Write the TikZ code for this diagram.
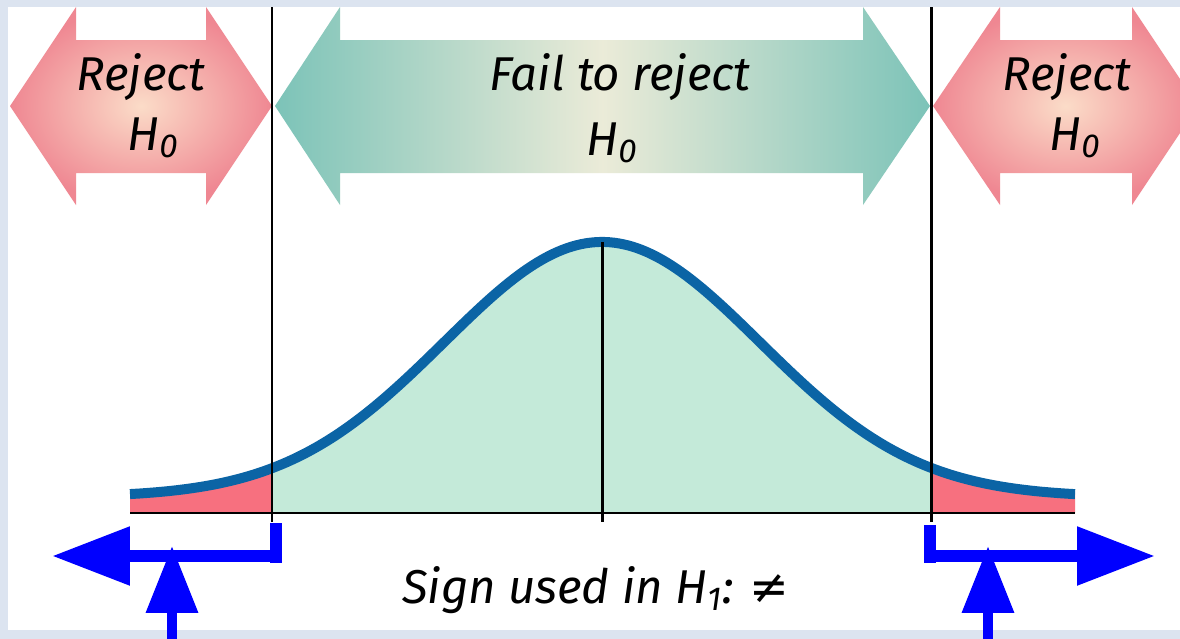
\documentclass[tikz,border=0pt]{standalone}
\usepackage{fontspec}
\setmainfont{Fira Sans}
\newfontfamily\symfont{DejaVu Sans}
\usetikzlibrary{arrows.meta,positioning,shadings}
\definecolor{frame}{HTML}{DCE4F0}
\definecolor{rejedge}{HTML}{EF8792}
\definecolor{rejmid}{HTML}{FBDCC8}
\definecolor{failedge}{HTML}{7CC3B8}
\definecolor{failmid}{HTML}{EBEBD8}
\definecolor{tailpink}{HTML}{F7707F}
\definecolor{bodygreen}{HTML}{C4EAD9}
\definecolor{curveblue}{HTML}{0B64A5}
\definecolor{ptrblue}{HTML}{0000FF}

\begin{document}
\begin{tikzpicture}[x=0.02cm, y=-0.02cm,
      lbl/.style={font=\fontsize{27}{32}\selectfont\itshape, anchor=base, inner sep=0pt},
      rej/.style={inner color=rejmid, outer color=rejedge},
      fail/.style={left color=failedge, right color=failedge, middle color=failmid},
      rule/.style={black, line width=1.7pt},
      barr/.style={ptrblue, line width=0.24cm, -{Triangle[length=1.56cm, width=1.12cm]}},
      uarr/.style={ptrblue, line width=0.2cm, -{Triangle[length=1.34cm, width=1cm]}},
      tickbar/.style={ptrblue, line width=0.24cm}
    ]
      \useasboundingbox (0,0) rectangle (1180,639);
      \fill[frame] (0,0) rectangle (1180,639);
      \fill[white] (8,7) rectangle (1180,630);

      % regions above the axis
      \begin{scope}
        \clip (8,7) rectangle (1180,630);
        \shade[rej] (10,106) -- (76,7) -- (76,40) -- (206,40) -- (206,7) -- (272,106)
          -- (206,205) -- (206,173) -- (76,173) -- (76,205) -- cycle;
        \shade[fail] (275,106) -- (340,7) -- (340,40) -- (863,40) -- (863,7) -- (930,106)
          -- (863,205) -- (863,173) -- (340,173) -- (340,205) -- cycle;
        \shade[rej] (933,106) -- (1000,7) -- (1000,40) -- (1132,40) -- (1132,7) -- (1198,106)
          -- (1132,205) -- (1132,173) -- (1000,173) -- (1000,205) -- cycle;
      \end{scope}

      \node[lbl] (rejA) at (141,90) {Reject};
      \node[lbl] (rejAh) at (153,150) {H\textsubscript{0}};
      \node[lbl] (fail) at (620,90) {Fail to reject};
      \node[lbl] (failh) at (612,155) {H\textsubscript{0}};
      \node[lbl] (rejB) at (1067,90) {Reject};
      \node[lbl] (rejBh) at (1075,150) {H\textsubscript{0}};

      % normal curve
      \fill[tailpink] (130,513) -- plot[domain=130:272, samples=40]
        (\x, {497-255*exp(-0.5*((\x-602)/158)^2)}) -- (272,513) -- cycle;
      \fill[tailpink] (931,513) -- plot[domain=931:1075, samples=40]
        (\x, {497-255*exp(-0.5*((\x-602)/158)^2)}) -- (1075,513) -- cycle;
      \fill[bodygreen] (272,513) -- plot[domain=272:931, samples=120]
        (\x, {497-255*exp(-0.5*((\x-602)/158)^2)}) -- (931,513) -- cycle;
      \draw[curveblue, line width=0.2cm] plot[domain=130:1075, samples=200]
        (\x, {497-255*exp(-0.5*((\x-602)/158)^2)});

      \coordinate (axL) at (130,513);
      \coordinate (axR) at (1075,513);
      \coordinate (cvL) at (272,7);
      \coordinate (cvR) at (931,7);
      \coordinate (peak) at (602,242);
      \draw[rule] (axL) -- (axR);
      \draw[rule] (cvL) -- (272,522);
      \draw[rule] (cvR) -- (931,522);
      \draw[rule] (peak) -- (602,522);

      \node[lbl] (sign) at (596,603) {Sign used in H\textsubscript{1}: {\symfont\upshape ≠}};

      % pointers
      \coordinate (tkL) at (276,523);
      \coordinate (tkLb) at (276,563);
      \coordinate (hL) at (282,556);
      \coordinate (tipL) at (52,556);
      \coordinate (upL) at (172,639);
      \coordinate (upLt) at (172,546);
      \draw[tickbar] (tkL) -- (tkLb);
      \draw[barr] (hL) -- (tipL);
      \draw[uarr] (upL) -- (upLt);

      \coordinate (tkR) at (930,525);
      \coordinate (tkRb) at (930,563);
      \coordinate (hR) at (924,556);
      \coordinate (tipR) at (1155,556);
      \coordinate (upR) at (988,639);
      \coordinate (upRt) at (988,546);
      \draw[tickbar] (tkR) -- (tkRb);
      \draw[barr] (hR) -- (tipR);
      \draw[uarr] (upR) -- (upRt);
    \end{tikzpicture}
\end{document}
